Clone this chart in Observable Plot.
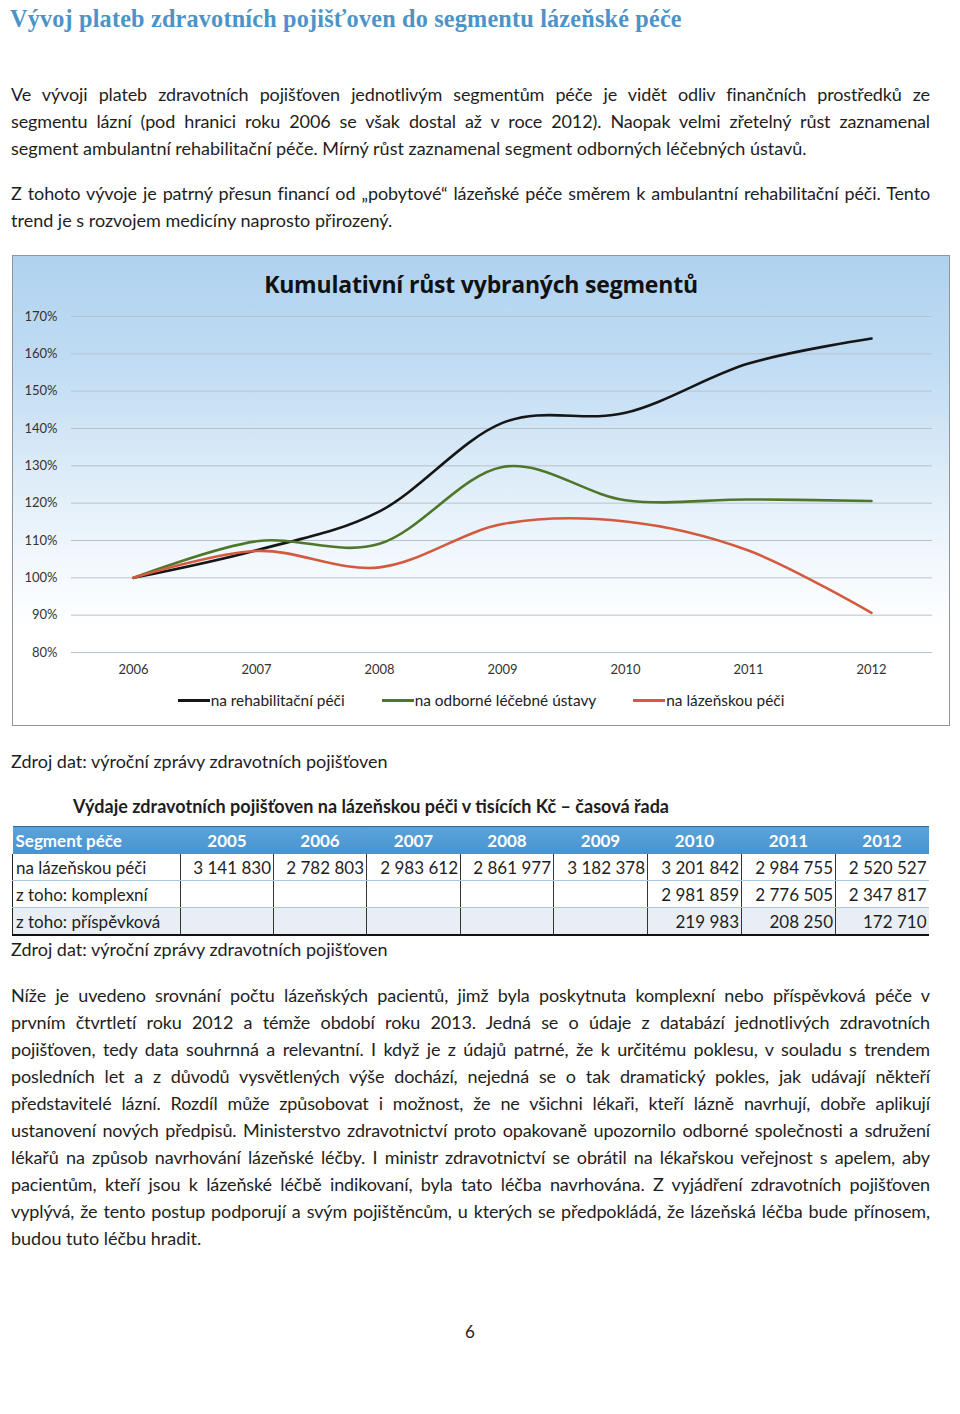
<!DOCTYPE html>
<html>
<head>
<meta charset="utf-8">
<script src="https://cdn.jsdelivr.net/npm/d3@7"></script>
<script src="https://cdn.jsdelivr.net/npm/@observablehq/plot@0.6"></script>
<style>
  html, body { margin: 0; padding: 0; background: #fff; }
  body { width: 960px; height: 1414px; position: relative; overflow: hidden; font-family: Lato, "Open Sans", sans-serif; color: #1e1e1e; }
  .abs { position: absolute; }
  .h1 { left: 10px; top: 5px; font-family: "Liberation Serif", serif; font-weight: bold; font-size: 24.2px; color: #4c94c8; white-space: nowrap; letter-spacing: 0.2px; }
  .para { left: 11px; width: 919px; font-size: 18px; }
  .line { height: 27px; line-height: 27px; white-space: nowrap; text-align: justify; text-align-last: justify; }
  .line.last { text-align-last: left; }
  .src { left: 11px; font-size: 18px; white-space: nowrap; }
  #chartbox { left: 12px; top: 255px; width: 938px; height: 471px; box-sizing: border-box; border: 1.5px solid #8f959b;
    background: linear-gradient(180deg, #afd2ef 0%, #c2ddf4 25%, #dbebf8 45%, #f2f8fd 65%, #ffffff 80%); }
  #ctitle { position: absolute; left: 0; width: 100%; top: 12px; text-align: center; font-weight: bold; font-size: 23px; color: #111; font-family: "Open Sans", Lato, sans-serif; letter-spacing: -0.2px; }
  #plot { position: absolute; left: 0; top: 0; }
  #legend { position: absolute; left: 0; top: 435px; width: 100%; display: flex; justify-content: center; gap: 37px; font-size: 15.4px; color: #222; }
  #legend .item { display: flex; align-items: center; }
  #legend .sw { width: 32px; height: 3px; margin-right: 1px; }
  .ttitle { left: 73px; top: 795px; font-weight: bold; font-size: 18px; white-space: nowrap; }
  table { position: absolute; left: 12px; top: 826px; border-collapse: collapse; font-size: 17px; table-layout: fixed; }
  th { background: linear-gradient(180deg, #5aa3db, #4a92cc); color: #fff; height: 27px; padding: 0; font-weight: bold; text-align: center; border-top: 1px solid #3a6b96; }
  th:first-child { text-align: left; padding-left: 3px; }
  td { height: 26px; padding: 0 2px 0 2px; text-align: right; border-left: 1px solid #333; border-bottom: 1px solid #a8c8e6; white-space: nowrap; }
  td:first-child { text-align: left; border-left: 1.5px solid #222; padding-left: 3px; }
  tr.r3 td { background: #e8eef4; border-bottom: 2.5px solid #111; }
  .pnum { left: 465px; top: 1321px; font-size: 17px; }
</style>
</head>
<body>
<script>
// ---- chart data (cumulative growth, 2006 = 100 %) ----
const years = [2006, 2007, 2008, 2009, 2010, 2011, 2012];
const rehab = [100, 107.4, 117.8, 141.5, 144.2, 157.4, 164.1];
const odborne = [100, 109.8, 109.1, 129.7, 120.8, 121.0, 120.6];
const lazne = [100, 107.2, 102.8, 114.4, 115.1, 107.3, 90.6];
const seriesNames = ["na rehabilitační péči", "na odborné léčebné ústavy", "na lázeňskou péči"];
const seriesColors = ["#161616", "#4e772b", "#d35a3f"];
const yTicks = [80, 90, 100, 110, 120, 130, 140, 150, 160, 170];
const chartTitle = "Kumulativní růst vybraných segmentů";

// ---- table data ----
const tableYears = ["2005", "2006", "2007", "2008", "2009", "2010", "2011", "2012"];
const rowLabels = ["na lázeňskou péči", "z toho: komplexní", "z toho: příspěvková"];
const rowLazne = ["3 141 830", "2 782 803", "2 983 612", "2 861 977", "3 182 378", "3 201 842", "2 984 755", "2 520 527"];
const rowKomplex = ["", "", "", "", "", "2 981 859", "2 776 505", "2 347 817"];
const rowPrisp = ["", "", "", "", "", "219 983", "208 250", "172 710"];
const colWidths = [168, 93, 93, 94, 93, 94, 94, 94, 93];

// ---- text ----
const heading = "Vývoj plateb zdravotních pojišťoven do segmentu lázeňské péče";
const para1 = [
  "Ve vývoji plateb zdravotních pojišťoven jednotlivým segmentům péče je vidět odliv finančních prostředků ze",
  "segmentu lázní (pod hranici roku 2006 se však dostal až v roce 2012). Naopak velmi zřetelný růst zaznamenal",
  "segment ambulantní rehabilitační péče. Mírný růst zaznamenal segment odborných léčebných ústavů."
];
const para2 = [
  "Z tohoto vývoje je patrný přesun financí od „pobytové“ lázeňské péče směrem k ambulantní rehabilitační péči. Tento",
  "trend je s rozvojem medicíny naprosto přirozený."
];
const para3 = [
  "Níže je uvedeno srovnání počtu lázeňských pacientů, jimž byla poskytnuta komplexní nebo příspěvková péče v",
  "prvním čtvrtletí roku 2012 a témže období roku 2013. Jedná se o údaje z databází jednotlivých zdravotních",
  "pojišťoven, tedy data souhrnná a relevantní. I když je z údajů patrné, že k určitému poklesu, v souladu s trendem",
  "posledních let a z důvodů vysvětlených výše dochází, nejedná se o tak dramatický pokles, jak udávají někteří",
  "představitelé lázní. Rozdíl může způsobovat i možnost, že ne všichni lékaři, kteří lázně navrhují, dobře aplikují",
  "ustanovení nových předpisů. Ministerstvo zdravotnictví proto opakovaně upozornilo odborné společnosti a sdružení",
  "lékařů na způsob navrhování lázeňské léčby. I ministr zdravotnictví se obrátil na lékařskou veřejnost s apelem, aby",
  "pacientům, kteří jsou k lázeňské léčbě indikovaní, byla tato léčba navrhována. Z vyjádření zdravotních pojišťoven",
  "vyplývá, že tento postup podporují a svým pojištěncům, u kterých se předpokládá, že lázeňská léčba bude přínosem,",
  "budou tuto léčbu hradit."
];
const sourceText = "Zdroj dat: výroční zprávy zdravotních pojišťoven";
const tableTitle = "Výdaje zdravotních pojišťoven na lázeňskou péči v tisících Kč – časová řada";
const pageNumber = "6";

// ---- build page ----
function addDiv(cls, top, text) {
  const d = document.createElement("div");
  d.className = "abs " + cls;
  if (top != null) d.style.top = top + "px";
  if (text != null) d.textContent = text;
  document.body.appendChild(d);
  return d;
}
const allLines = [];
function addPara(lines, top) {
  const p = addDiv("para", top);
  lines.forEach((t, i) => {
    const l = document.createElement("div");
    l.className = "line" + (i === lines.length - 1 ? " last" : "");
    const s = document.createElement("span");
    s.textContent = t;
    l.appendChild(s);
    p.appendChild(l);
    allLines.push({l, s});
  });
}
addDiv("h1", null, heading);
addPara(para1, 81);
addPara(para2, 180);

// chart box
const box = addDiv("", null);
box.id = "chartbox";
const ct = document.createElement("div");
ct.id = "ctitle"; ct.textContent = chartTitle; box.appendChild(ct);

const data = [];
[rehab, odborne, lazne].forEach((arr, s) => years.forEach((yr, i) => data.push({year: yr, value: arr[i], series: seriesNames[s]})));

const plot = Plot.plot({
  width: 935, height: 429,
  marginLeft: 58, marginRight: 16, marginTop: 60, marginBottom: 33,
  style: {background: "transparent", fontFamily: "Lato, sans-serif", fontSize: "13px", color: "#333"},
  x: {type: "point", domain: years, padding: 0.5},
  y: {domain: [80, 170]},
  color: {domain: seriesNames, range: seriesColors},
  marks: [
    Plot.gridY(yTicks, {stroke: "#b8c2cb", strokeOpacity: 1, strokeWidth: 1}),
    Plot.axisY(yTicks, {tickSize: 0, tickPadding: 14, tickFormat: d => d + "%", label: null, fill: "#333", fontSize: 13}),
    Plot.axisX(years, {tickSize: 0, tickPadding: 12, tickFormat: d => String(d), label: null, fill: "#333", fontSize: 13}),
    Plot.line(data, {x: "year", y: "value", z: "series", stroke: "series", strokeWidth: 2.6, curve: "cardinal"})
  ]
});
plot.id = "plot";
box.appendChild(plot);

const leg = document.createElement("div");
leg.id = "legend";
seriesNames.forEach((n, i) => {
  const it = document.createElement("div"); it.className = "item";
  const sw = document.createElement("div"); sw.className = "sw"; sw.style.background = seriesColors[i];
  const tx = document.createElement("span"); tx.textContent = n;
  it.appendChild(sw); it.appendChild(tx); leg.appendChild(it);
});
box.appendChild(leg);

addDiv("src", 750, sourceText);
addDiv("ttitle", null, tableTitle);

// table
const table = document.createElement("table");
const cg = document.createElement("colgroup");
colWidths.forEach(w => { const c = document.createElement("col"); c.style.width = w + "px"; cg.appendChild(c); });
table.appendChild(cg);
const hr = document.createElement("tr");
["Segment péče", ...tableYears].forEach(t => { const th = document.createElement("th"); th.textContent = t; hr.appendChild(th); });
table.appendChild(hr);
[rowLazne, rowKomplex, rowPrisp].forEach((vals, r) => {
  const tr = document.createElement("tr");
  tr.className = "r" + (r + 1);
  [rowLabels[r], ...vals].forEach(t => { const td = document.createElement("td"); td.textContent = t; tr.appendChild(td); });
  table.appendChild(tr);
});
document.body.appendChild(table);

addDiv("src", 938, sourceText);
addPara(para3, 982);
addDiv("pnum", null, pageNumber);

// shrink any line whose natural width would overflow the column
allLines.forEach(({l, s}) => {
  const w = s.getBoundingClientRect().width;
  const max = 905;
  if (w > max) {
    const ls = -(w - max) / Math.max(1, s.textContent.length);
    l.style.letterSpacing = ls.toFixed(3) + "px";
  }
});
</script>
</body>
</html>
